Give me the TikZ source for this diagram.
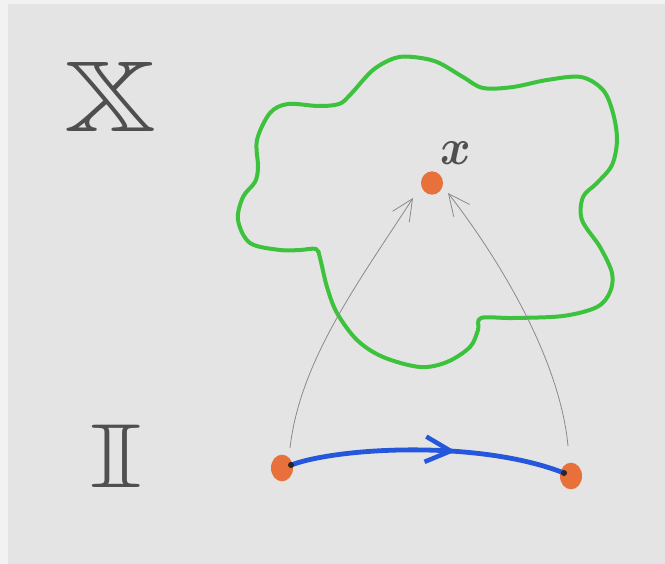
\documentclass[tikz,border=0pt]{standalone}
\usepackage{amsmath}
\usepackage{amssymb}
\usepackage{graphicx}
\usetikzlibrary{arrows.meta,decorations.markings,shapes.geometric}
\definecolor{paper}{HTML}{E4E4E4}
\definecolor{edge}{HTML}{F2F2F2}
\definecolor{cloudgreen}{HTML}{3DC23D}
\definecolor{pathblue}{HTML}{2457DC}
\definecolor{dotorange}{HTML}{E8703A}
\definecolor{ink}{HTML}{4F4F4F}
\definecolor{pencil}{HTML}{8A8A8A}
\tikzset{
  cloud/.style={draw=cloudgreen, line width=3pt, line join=round},
  pathline/.style={draw=pathblue, line width=3.6pt, line cap=round,
    postaction={decorate},
    decoration={markings, mark=at position 0.6 with {\arrow[line width=3.4pt, pathblue]{Straight Barb[length=19pt,width=19pt]}}}},
  mapline/.style={draw=pencil, line width=0.6pt, -{Straight Barb[length=16pt,width=15pt]}},
  blob/.style={fill=dotorange, draw=none, ellipse, inner sep=0pt},
  enddot/.style={circle, fill=black!85, inner sep=0pt, minimum size=4.5pt},
  letter/.style={text=ink, inner sep=0pt}
}
\begin{document}
\begin{tikzpicture}[x=0.75pt,y=-0.75pt]
\useasboundingbox (0,0) rectangle (665,564);
\fill[edge] (0,0) rectangle (665,564);
\fill[paper] (8,4) rectangle (665,564);

% space X
\draw[cloud] plot[smooth cycle, tension=0.55] coordinates {
 (288,104) (318,106) (339,104) (350,95) (373,70) (395,58) (413,57) (437,62)
 (463,77) (483,88) (513,87) (547,80) (581,77) (603,90) (613,113) (617,140)
 (612,165) (597,183) (583,197) (582,220) (600,247) (612,273) (610,292)
 (597,307) (563,316) (513,318) (481,318) (478,330) (470,347) (447,362)
 (420,367) (383,357) (357,340) (337,313) (327,287) (320,258) (316,249)
 (300,250) (280,250) (250,243) (238,220) (243,197) (255,182) (258,167)
 (257,140) (270,113)};

% labels
\node[letter] (Xlab) at (111,97) {\resizebox{69pt}{52pt}{$\boldsymbol{\mathbb{X}}$}};
\node[letter] (Ilab) at (116,456) {\resizebox{40pt}{47pt}{$\boldsymbol{\mathbb{I}}$}};

% point x
\node[blob, minimum width=16.5pt, minimum height=17.5pt] (xpt) at (432,183) {};
\node[letter] (xlab) at (456,153) {\resizebox{23pt}{17pt}{$\boldsymbol{x}$}};

% endpoints of interval path
\node[blob, minimum width=16.5pt, minimum height=20pt] (p0) at (282,468) {};
\node[blob, minimum width=16.5pt, minimum height=20pt] (p1) at (571,476) {};
\coordinate (d0) at (291,465);
\coordinate (d1) at (564,473);

% path in I
\draw[pathline] (d0) .. controls (340,447) and (480,440) .. (d1);
\node[enddot] (e0) at (d0) {};
\node[enddot] (e1) at (d1) {};

% pencil arrows
\coordinate (s0) at (290,448);
\coordinate (s1) at (568,446);
\coordinate (t0) at (413,198);
\coordinate (t1) at (448,193);
\draw[mapline] (s0) .. controls (300,360) and (360,280) .. (t0);
\draw[mapline] (s1) .. controls (560,360) and (500,260) .. (t1);
\end{tikzpicture}
\end{document}
